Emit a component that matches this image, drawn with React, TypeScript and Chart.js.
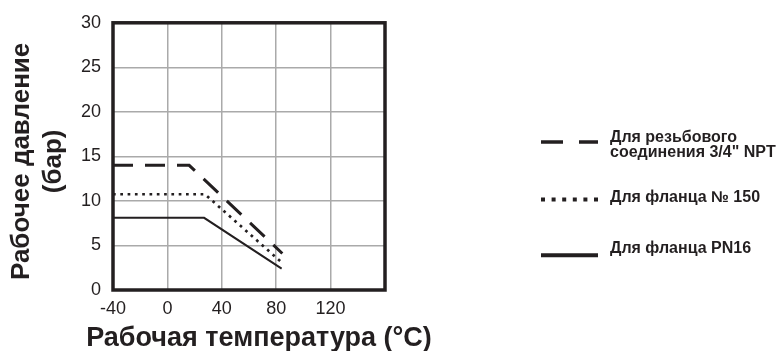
import React, { useEffect, useRef } from "react";
import { Chart, registerables } from "chart.js";

Chart.register(...registerables);

// ---- data ----
const xTickLabels = [-40, 0, 40, 80, 120];
const yTickLabels = [0, 5, 10, 15, 20, 25, 30];

const threadTemps = [-40, 16, 84.5];
const threadPressure = [14, 14, 4.1];

const flange150Temps = [-40, 27.6, 84];
const flange150Pressure = [10.75, 10.75, 3.1];

const pn16Temps = [-40, 27, 84];
const pn16Pressure = [8.1, 8.1, 2.4];

const seriesNames = [
  ["Для резьбового", "соединения 3/4\" NPT"],
  ["Для фланца № 150"],
  ["Для фланца PN16"],
];

const xTitle = "Рабочая температура (°C)";
const yTitle = ["Рабочее давление", "(бар)"];

const INK = "#231f20";
const FONT = "'Liberation Sans', Arial, Helvetica, sans-serif";

function pts(xs: number[], ys: number[]) {
  return xs.map((x, i) => ({ x, y: ys[i] }));
}

const overlay = {
  id: "overlay",
  beforeDatasetsDraw(chart: any) {
    const { ctx, chartArea: a } = chart;
    ctx.save();
    ctx.strokeStyle = INK;
    ctx.lineWidth = 3.5;
    ctx.strokeRect(a.left, a.top, a.right - a.left, a.bottom - a.top);
    ctx.restore();
  },
  afterDraw(chart: any) {
    const { ctx, chartArea: a } = chart;
    ctx.save();
    ctx.fillStyle = INK;
    // x title
    ctx.font = `bold 27px ${FONT}`;
    ctx.textAlign = "center";
    ctx.textBaseline = "alphabetic";
    ctx.fillText(xTitle, (a.left + a.right) / 2 + 10, 346);
    // y title
    ctx.font = `bold 26px ${FONT}`;
    const cy = (a.top + a.bottom) / 2 + 5;
    const baseX = [29, 61];
    yTitle.forEach((t, i) => {
      ctx.save();
      ctx.translate(baseX[i], cy);
      ctx.rotate(-Math.PI / 2);
      ctx.fillText(t, 0, 0);
      ctx.restore();
    });

    // legend
    const lx0 = 541, lx1 = 598, tx = 610;
    ctx.strokeStyle = INK;
    ctx.lineCap = "butt";
    // dashed
    ctx.lineWidth = 3.5;
    ctx.setLineDash([22, 16]);
    ctx.beginPath(); ctx.moveTo(lx0, 142); ctx.lineTo(lx1, 142); ctx.stroke();
    // dotted
    ctx.lineWidth = 4;
    ctx.setLineDash([4, 6.6]);
    ctx.beginPath(); ctx.moveTo(lx0, 199.5); ctx.lineTo(lx1 + 4, 199.5); ctx.stroke();
    // solid
    ctx.setLineDash([]);
    ctx.lineWidth = 4;
    ctx.beginPath(); ctx.moveTo(lx0, 255.3); ctx.lineTo(lx1, 255.3); ctx.stroke();

    ctx.font = `bold 16px ${FONT}`;
    ctx.textAlign = "left";
    ctx.fillText(seriesNames[0][0], tx, 142);
    ctx.fillText(seriesNames[0][1], tx, 156.5);
    ctx.fillText(seriesNames[1][0], tx, 201.7);
    ctx.fillText(seriesNames[2][0], tx, 252.7);
    ctx.restore();
  },
};

export default function App() {
  const ref = useRef<HTMLCanvasElement | null>(null);
  useEffect(() => {
    if (!ref.current) return;
    const chart = new Chart(ref.current, {
      type: "line",
      data: {
        datasets: [
          {
            label: seriesNames[0].join(" "),
            data: pts(threadTemps, threadPressure),
            borderColor: INK,
            borderWidth: 3,
            borderDash: [20, 12],
            pointRadius: 0,
            fill: false,
          },
          {
            label: seriesNames[1][0],
            data: pts(flange150Temps, flange150Pressure),
            borderColor: INK,
            borderWidth: 2.7,
            borderDash: [2.7, 4.6],
            pointRadius: 0,
            fill: false,
          },
          {
            label: seriesNames[2][0],
            data: pts(pn16Temps, pn16Pressure),
            borderColor: INK,
            borderWidth: 2,
            pointRadius: 0,
            fill: false,
          },
        ],
      },
      options: {
        responsive: false,
        animation: false,
        events: [],
        layout: { padding: { left: 0, top: 20, right: 395, bottom: 0 } },
        plugins: { legend: { display: false }, tooltip: { enabled: false } },
        scales: {
          x: {
            type: "linear",
            min: -40,
            max: 160,
            afterFit: (s: any) => { s.height = 61; },
            afterBuildTicks: (s: any) => {
              s.ticks = [-40, 0, 40, 80, 120, 160].map((v) => ({ value: v }));
            },
            ticks: {
              color: INK,
              font: { family: FONT, size: 18 },
              padding: 8,
              maxRotation: 0,
              autoSkip: false,
              callback: (v: any) => (xTickLabels.includes(Number(v)) ? String(v) : ""),
            },
            grid: { color: "#aaaaaa", lineWidth: 1.5, drawTicks: false },
            border: { display: false },
          },
          y: {
            min: 0,
            max: 30,
            afterFit: (s: any) => { s.width = 113; },
            afterBuildTicks: (s: any) => {
              s.ticks = yTickLabels.map((v) => ({ value: v }));
            },
            ticks: {
              color: INK,
              font: { family: FONT, size: 18 },
              padding: 12,
            },
            grid: { color: "#aaaaaa", lineWidth: 1.5, drawTicks: false },
            border: { display: false },
          },
        },
      },
      plugins: [overlay],
    });
    return () => chart.destroy();
  }, []);
  return (
    <div style={{ position: "absolute", left: 0, top: 0, width: 780, height: 351, background: "#fff" }}>
      <canvas ref={ref} width={780} height={351} style={{ display: "block" }} />
    </div>
  );
}
